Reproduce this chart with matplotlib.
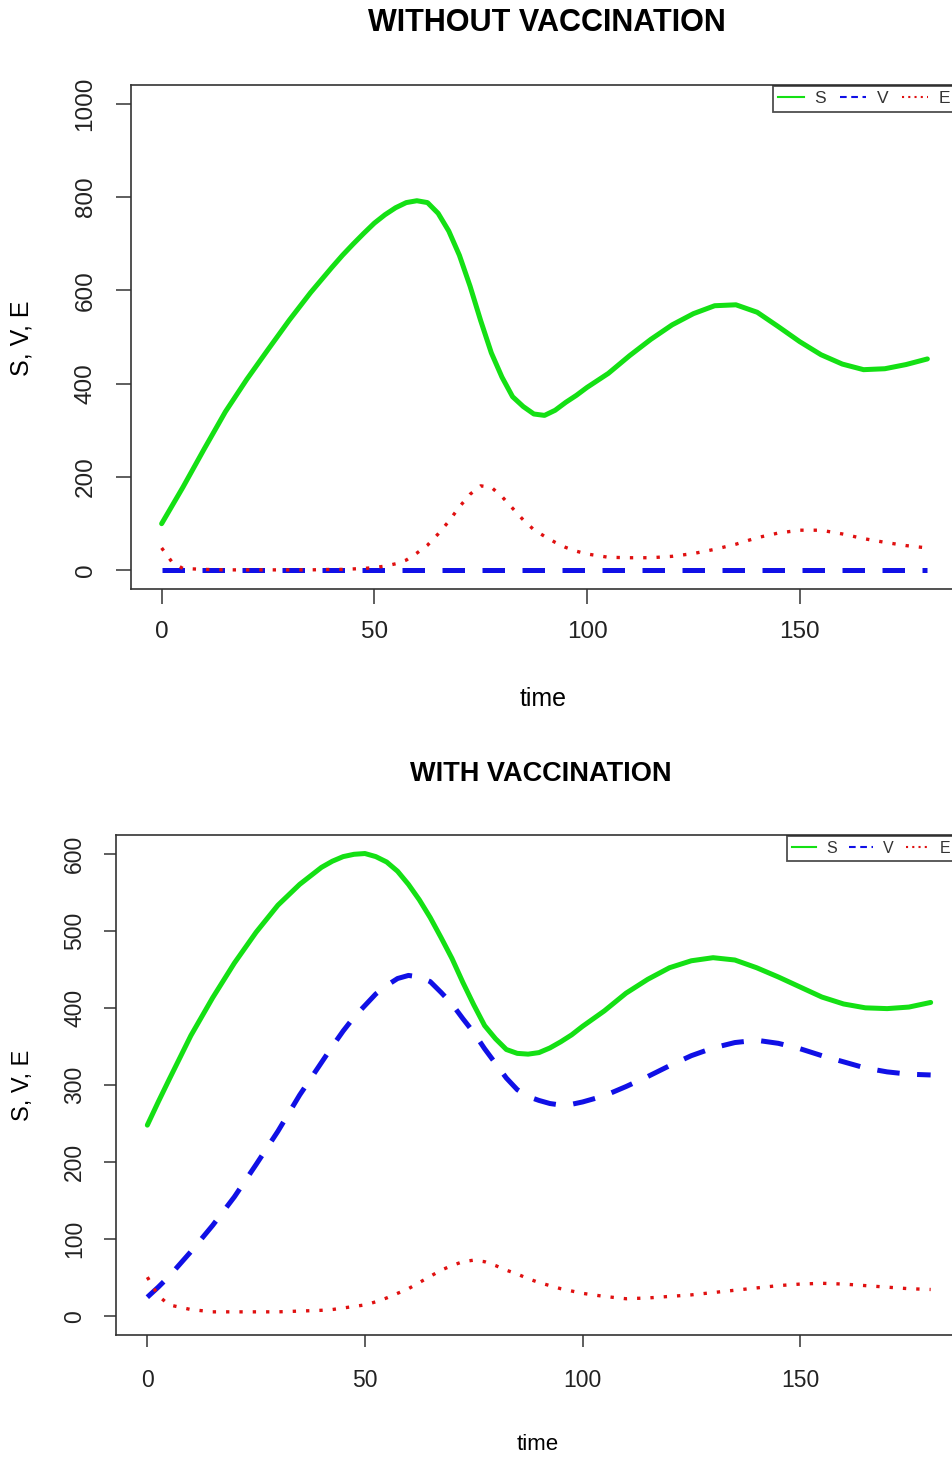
import matplotlib
matplotlib.use("Agg")
import matplotlib.pyplot as plt
from matplotlib.lines import Line2D

plt.rcParams['font.family'] = ['Liberation Sans', 'DejaVu Sans']

time = [0, 2.5, 5, 10, 15, 20, 25, 30, 35,
        40, 42.5, 45, 47.5, 50, 52.5, 55, 57.5, 60, 62.5, 65, 67.5, 70, 72.5, 75, 77.5,
        80, 82.5, 85, 87.5, 90, 92.5, 95, 97.5, 100,
        105, 110, 115, 120, 125, 130, 135, 140, 145, 150, 155, 160, 165, 170, 175, 180]

# without vaccination
s_without = [100, 139, 178, 260, 340, 409, 473, 536, 595,
             649, 675, 699, 722, 744, 762, 777, 788, 792, 788, 765, 727, 675, 609, 535, 466,
             414, 372, 351, 335, 332, 343, 360, 375, 392,
             422, 460, 495, 526, 550, 567, 569, 553, 522, 490, 462, 442, 430, 432, 441, 453]
v_without = [0, 0, 0, 0, 0, 0, 0, 0, 0,
             0, 0, 0, 0, 0, 0, 0, 0, 0, 0, 0, 0, 0, 0, 0, 0,
             0, 0, 0, 0, 0, 0, 0, 0, 0,
             0, 0, 0, 0, 0, 0, 0, 0, 0, 0, 0, 0, 0, 0, 0, 0]
e_without = [48, 17, 4, 2, 1, 1, 1, 1, 1,
             2, 2, 3, 4, 6, 9, 14, 22, 37, 54, 78, 105, 136, 163, 181, 178,
             158, 133, 108, 87, 73, 60, 49, 41, 35,
             28, 27, 27, 30, 36, 45, 56, 70, 80, 86, 86, 78, 68, 60, 53, 48]

# with vaccination
s_with = [248, 278, 307, 364, 413, 458, 498, 533, 560,
          582, 590, 596, 599, 600, 596, 589, 577, 560, 540, 517, 491, 464, 433, 404, 377,
          360, 346, 341, 340, 342, 348, 356, 365, 376,
          396, 419, 437, 452, 461, 465, 462, 452, 440, 427, 414, 405, 400, 399, 401, 407]
v_with = [25, 38, 52, 84, 118, 155, 197, 240, 287,
          329, 350, 370, 388, 403, 418, 429, 438, 442, 440, 434, 420, 405, 386, 368, 347,
          328, 309, 294, 285, 280, 276, 274, 275, 278,
          286, 298, 311, 325, 338, 348, 355, 358, 354, 347, 338, 330, 322, 317, 314, 313]
e_with = [51, 27, 15, 9, 6, 6, 6, 6, 7,
          8, 9, 11, 13, 15, 19, 24, 30, 36, 44, 52, 60, 66, 71, 73, 71,
          66, 60, 55, 49, 44, 40, 36, 33, 30,
          26, 23, 24, 26, 28, 31, 34, 37, 40, 42, 43, 42, 40, 38, 36, 35]

x_ticks = [0, 50, 100, 150]
legend_labels = ["S", "V", "E"]

green = "#14e014"
blue = "#1010e6"
red = "#e01010"
frame = "#333333"

fig = plt.figure(figsize=(9.52, 14.58), dpi=100)


def panel(rect, s, v, e, ymax, ystep, fs, ticklen, xpad, ypad, legfs, legx):
    ax = fig.add_axes(rect)
    ax.plot(time, s, color=green, lw=3.6, solid_capstyle="round", solid_joinstyle="round")
    ax.plot(time, v, color=blue, lw=3.6, dashes=(4.5, 3.5), dash_joinstyle="round")
    ax.plot(time, e, color=red, lw=2.4, dashes=(1, 3))
    ax.set_xlim(-7.2, 187.2)
    ax.set_ylim(-0.04 * ymax, 1.04 * ymax)
    ax.set_xticks(x_ticks)
    ax.set_yticks(list(range(0, ymax + 1, ystep)))
    for sp in ax.spines.values():
        sp.set_color(frame)
        sp.set_linewidth(1.2)
    ax.tick_params(axis="both", length=ticklen, width=1.1, color=frame,
                   labelsize=fs, labelcolor="#222222")
    ax.tick_params(axis="x", pad=xpad)
    ax.tick_params(axis="y", pad=ypad, labelrotation=90)
    for lab in ax.get_yticklabels():
        lab.set_va("center")
    handles = [Line2D([], [], color=green, lw=1.5),
               Line2D([], [], color=blue, lw=1.5, dashes=(3.2, 2.2)),
               Line2D([], [], color=red, lw=1.5, dashes=(1, 2))]
    leg = ax.legend(handles, legend_labels, loc="upper right", bbox_to_anchor=(legx, 0.998),
                    ncol=3, fontsize=legfs, frameon=True, fancybox=False, borderpad=0.3,
                    borderaxespad=0, handlelength=1.5, handletextpad=0.6, columnspacing=0.8)
    leg.get_frame().set_edgecolor("#222222")
    leg.get_frame().set_linewidth(1.3)
    for t in leg.get_texts():
        t.set_color("#333333")
    return ax


panel([131 / 952, 1 - 589 / 1458, 827 / 952, 504 / 1458],
      s_without, v_without, e_without, 1000, 200, 17.5, 10.8, 12, 14, 12.5, 0.9965)
panel([116 / 952, 1 - 1335 / 1458, 846 / 952, 500 / 1458],
      s_with, v_with, e_with, 600, 100, 16.5, 8.6, 16, 13, 11.5, 0.992)

fig.text(547 / 952, 1 - 23 / 1458, "WITHOUT VACCINATION", ha="center", va="center",
         fontsize=22, fontweight="bold")
fig.text(543 / 952, 1 - 699 / 1458, "time", ha="center", va="center", fontsize=18)
fig.text(22 / 952, 1 - 338 / 1458, "S, V, E", ha="center", va="center", fontsize=18,
         rotation=90)

fig.text(541 / 952, 1 - 774 / 1458, "WITH VACCINATION", ha="center", va="center",
         fontsize=19.5, fontweight="bold")
fig.text(538 / 952, 1 - 1445 / 1458, "time", ha="center", va="center", fontsize=16)
fig.text(23 / 952, 1 - 1085 / 1458, "S, V, E", ha="center", va="center", fontsize=17,
         rotation=90)

fig.savefig("out.png", dpi=100)
plt.close()
